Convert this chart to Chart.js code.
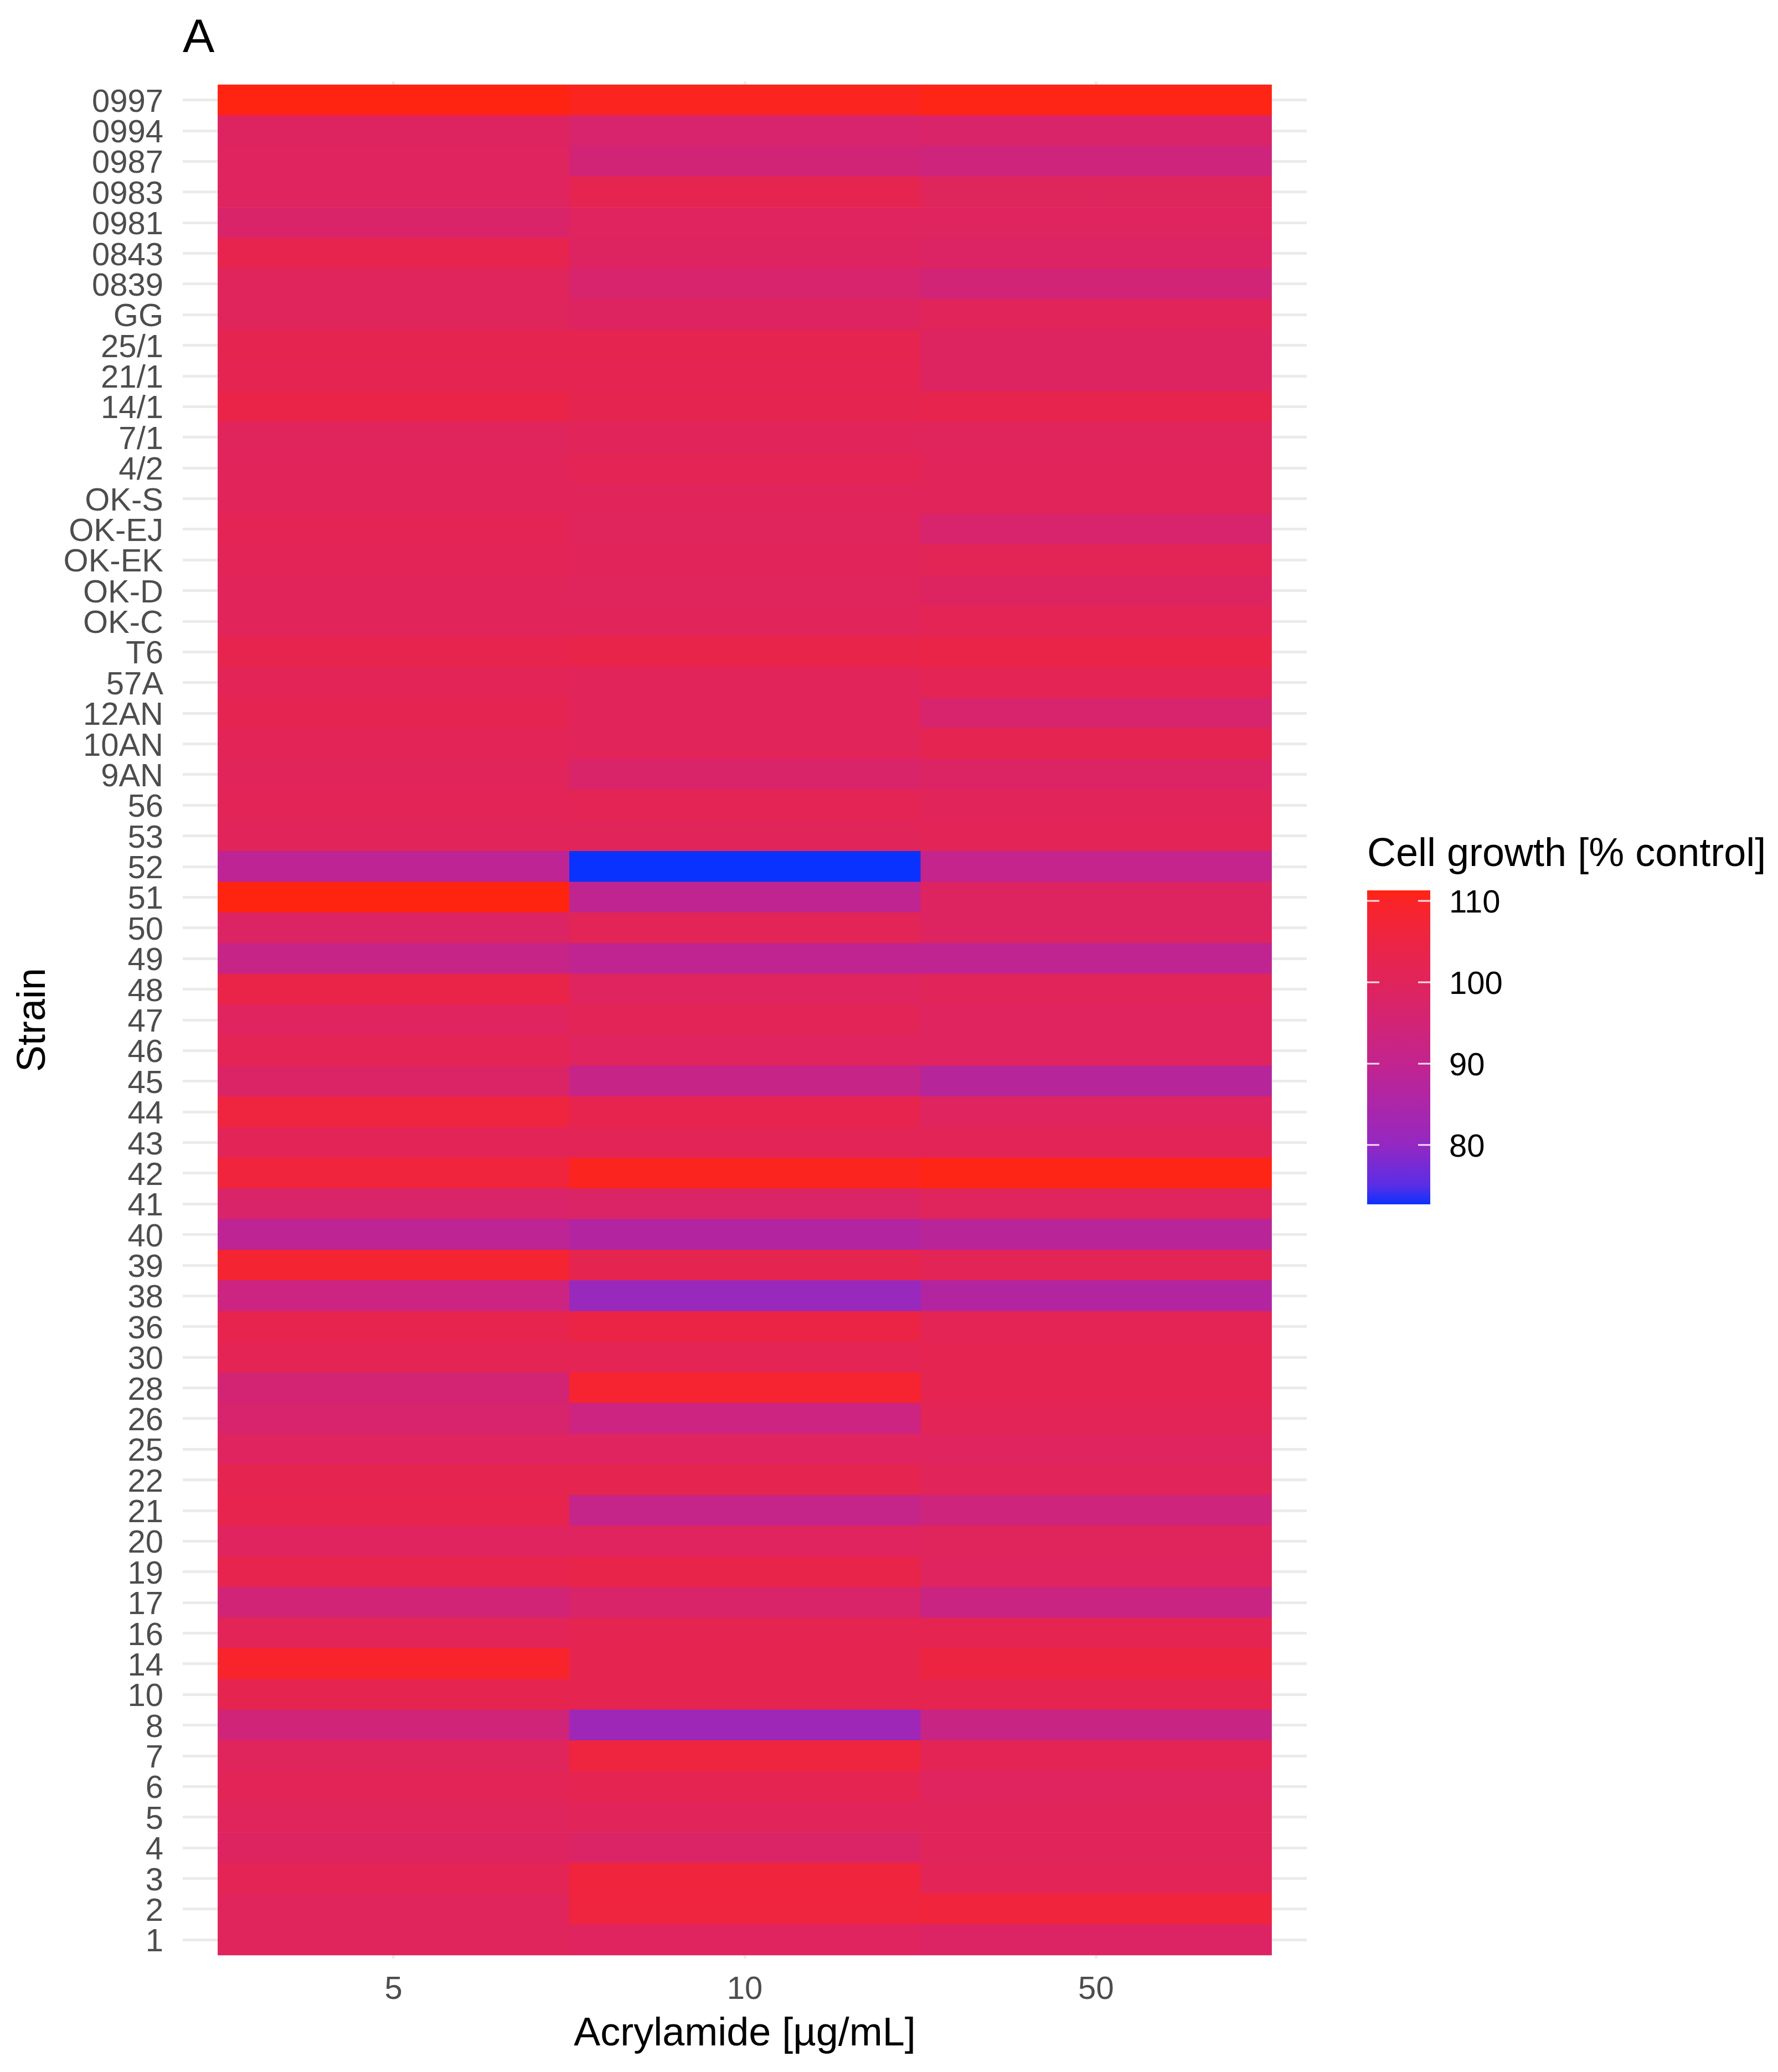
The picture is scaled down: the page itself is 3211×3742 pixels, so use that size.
<!DOCTYPE html>
<html>
<head>
<meta charset="utf-8">
<script src="https://cdn.jsdelivr.net/npm/chart.js@4.4.1/dist/chart.umd.min.js"></script>
<style>
html,body{margin:0;padding:0;background:#ffffff;}
canvas{display:block;}
</style>
</head>
<body>
<canvas id="chart" width="3211" height="3742"></canvas>
<script>
// ---------------- data (top row of the heatmap first) ----------------
const strains = ["0997","0994","0987","0983","0981","0843","0839","GG","25/1","21/1","14/1","7/1","4/2",
  "OK-S","OK-EJ","OK-EK","OK-D","OK-C","T6","57A","12AN","10AN","9AN","56","53","52","51","50","49",
  "48","47","46","45","44","43","42","41","40","39","38","36","30","28","26","25","22","21","20","19",
  "17","16","14","10","8","7","6","5","4","3","2","1"];

const concentrations = ["5", "10", "50"];

const growth5 = [111.2, 99, 99.5, 99.5, 97.5, 103, 100, 100, 102.5, 102, 104, 100, 100.5,
  100.5, 101.5, 101, 100.5, 100.5, 103, 101, 102, 101, 100.5, 101, 100.5, 89, 111.3, 98.5, 91.5,
  104, 99.5, 101.5, 98, 106, 101, 106.5, 97.5, 89, 108, 93, 103, 101.5, 95.5, 97, 99.5, 102.5, 103, 99.5, 103,
  95, 101, 109.5, 102.5, 94.5, 100, 101, 100, 99, 101.5, 100, 100];

const growth10 = [110.5, 97, 95, 102.5, 99.5, 99, 97, 99, 102.5, 102, 102.5, 100.5, 101.5,
  100.5, 100, 100.5, 100, 100.5, 103.5, 100.5, 100.5, 100.5, 97.5, 101.5, 100.5, 72.7, 89.5, 101, 89.5,
  99.5, 101, 99.5, 91.5, 103, 101, 110.5, 98, 86.5, 102.5, 81, 104.5, 101.5, 108.5, 93, 99.5, 102.5, 91, 99.5, 103.5,
  97.5, 102, 102.5, 102.5, 82, 106, 102, 100.5, 98, 106.5, 106, 99.5];

const growth50 = [111, 97.5, 94, 100, 99.5, 98.5, 95, 100.5, 99, 99, 103, 100, 100.5,
  100.5, 97, 101, 99, 101.5, 104, 101.5, 97, 102, 98.5, 100.5, 101, 90.5, 99, 99, 89.5,
  100.5, 99.5, 99.5, 87.5, 99.5, 101, 111, 100, 88, 101, 86.5, 101.5, 102, 102, 101, 99.5, 100.5, 94, 100, 99.5,
  92.5, 102, 105.5, 102.5, 92, 101.5, 99.5, 100.5, 100.5, 101, 106.5, 98.5];

const legendTicks = [80, 90, 100, 110];

// ---------------- colour scale ----------------
const seriesValues = [growth5, growth10, growth50];
const allValues = seriesValues.flat();
const vMin = Math.min(...allValues);
const vMax = Math.max(...allValues);

const colourStops = [
  [72.7, "#0A32FF"], [75, "#5A2EE6"], [80, "#9428C2"], [85, "#AC26A8"], [90, "#C2248E"],
  [95, "#D22476"], [100, "#E0245C"], [105, "#EC2444"], [110, "#FA2428"], [111.3, "#FF2410"]
];
function hexToRgb(h) {
  return [parseInt(h.slice(1, 3), 16), parseInt(h.slice(3, 5), 16), parseInt(h.slice(5, 7), 16)];
}
const stopRgb = colourStops.map(s => [s[0], hexToRgb(s[1])]);
function fillColour(v) {
  if (v <= stopRgb[0][0]) return "rgb(" + stopRgb[0][1].join(",") + ")";
  for (let i = 1; i < stopRgb.length; i++) {
    if (v <= stopRgb[i][0]) {
      const a = stopRgb[i - 1], b = stopRgb[i];
      const t = (v - a[0]) / (b[0] - a[0]);
      const c = a[1].map((x, k) => Math.round(x + (b[1][k] - x) * t));
      return "rgb(" + c.join(",") + ")";
    }
  }
  return "rgb(" + stopRgb[stopRgb.length - 1][1].join(",") + ")";
}

// ---------------- chart ----------------
const FONT = '"Liberation Sans", Arial, Helvetica, sans-serif';
const nRows = strains.length;
const TICK_SIZE = 58;
const TITLE_SIZE = 72;

const datasets = seriesValues.map((vals, k) => ({
  label: concentrations[k],
  data: vals.map((v, j) => ({ x: k + 1, y: [nRows - j - 0.5, nRows - j + 0.5] })),
  backgroundColor: vals.map(fillColour),
  borderWidth: 0,
  grouped: false,
  barPercentage: 1,
  categoryPercentage: 1
}));

const extrasPlugin = {
  id: "extras",
  afterDraw(chart) {
    const ctx = chart.ctx;
    ctx.save();
    // panel tag
    ctx.fillStyle = "#000000";
    ctx.textAlign = "left";
    ctx.textBaseline = "alphabetic";
    ctx.font = "86px " + FONT;
    ctx.fillText("A", 330, 94);

    // colour bar legend
    const bx = 2469, bw = 114, byTop = 1608, byBot = 2175;
    const yOf = v => byTop + (vMax - v) / (vMax - vMin) * (byBot - byTop);
    const grad = ctx.createLinearGradient(0, byTop, 0, byBot);
    const steps = 80;
    for (let s = 0; s <= steps; s++) {
      const v = vMax - (vMax - vMin) * s / steps;
      grad.addColorStop(s / steps, fillColour(v));
    }
    ctx.fillStyle = grad;
    ctx.fillRect(bx, byTop, bw, byBot - byTop);

    ctx.font = TITLE_SIZE + "px " + FONT;
    ctx.fillStyle = "#000000";
    ctx.fillText("Cell growth [% control]", 2469, 1564);

    ctx.strokeStyle = "rgba(255,255,255,0.85)";
    ctx.lineWidth = 3;
    ctx.font = TICK_SIZE + "px " + FONT;
    ctx.textBaseline = "middle";
    legendTicks.forEach(t => {
      const y = yOf(t);
      ctx.beginPath();
      ctx.moveTo(bx, y); ctx.lineTo(bx + 22, y);
      ctx.moveTo(bx + bw - 22, y); ctx.lineTo(bx + bw, y);
      ctx.stroke();
      ctx.fillStyle = "#000000";
      ctx.fillText(String(t), 2617, y + 5);
    });
    ctx.restore();
  }
};

new Chart(document.getElementById("chart"), {
  type: "bar",
  data: { datasets },
  options: {
    responsive: false,
    animation: false,
    devicePixelRatio: 1,
    layout: { padding: { top: 147.5, right: 851, bottom: 0, left: 0 } },
    plugins: { legend: { display: false }, tooltip: { enabled: false }, title: { display: false } },
    scales: {
      x: {
        type: "linear",
        offset: false,
        min: 0.4,
        max: 3.6,
        afterBuildTicks: s => { s.ticks = concentrations.map((c, i) => ({ value: i + 1 })); },
        afterFit: s => { s.height = 205.5; },
        ticks: {
          callback: v => concentrations[v - 1],
          font: { family: FONT, size: TICK_SIZE },
          color: "#4D4D4D",
          padding: 23,
          autoSkip: false,
          maxRotation: 0
        },
        grid: { color: "#EBEBEB", lineWidth: 5, drawTicks: false, offset: false },
        border: { display: false },
        title: {
          display: true,
          text: "Acrylamide [µg/mL]",
          font: { family: FONT, size: TITLE_SIZE },
          color: "#000000",
          padding: { top: 0, bottom: 25 }
        }
      },
      y: {
        type: "linear",
        min: 0.4,
        max: nRows + 0.6,
        afterBuildTicks: s => { s.ticks = strains.map((_, j) => ({ value: j + 1 })); },
        afterFit: s => { s.width = 330; },
        ticks: {
          callback: v => strains[nRows - v],
          font: { family: FONT, size: TICK_SIZE },
          color: "#4D4D4D",
          padding: 35,
          labelOffset: 5,
          autoSkip: false
        },
        grid: { color: "#EBEBEB", lineWidth: 5, drawTicks: false },
        border: { display: false },
        title: {
          display: true,
          text: "Strain",
          font: { family: FONT, size: TITLE_SIZE },
          color: "#000000",
          padding: { top: 18, bottom: 0 }
        }
      }
    }
  },
  plugins: [extrasPlugin]
});
</script>
</body>
</html>
